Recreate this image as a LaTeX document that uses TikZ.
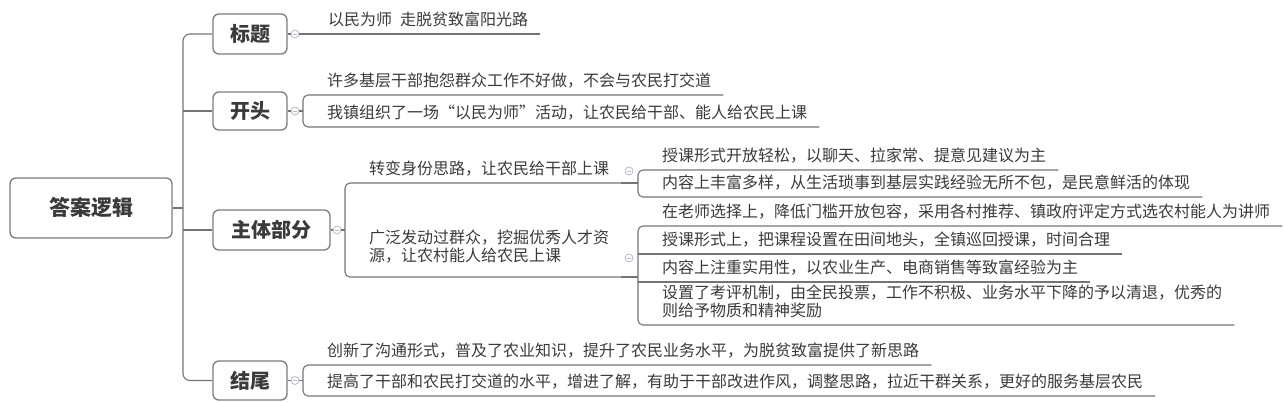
\documentclass[tikz,border=0pt]{standalone}
\usepackage{fontspec}
\newfontfamily\cjk{Noto Sans CJK SC}
\definecolor{txt}{HTML}{3A3A3A}
\definecolor{ln}{HTML}{747474}
\definecolor{bx}{HTML}{7C7C7C}
\definecolor{tg}{HTML}{B4B8CC}
\newcommand\leaffont{\cjk\fontsize{16}{16}\selectfont}
\newcommand\leaftext[1]{\begin{tabular}[b]{@{\hspace{24pt}}l@{\hspace{12pt}}}#1\end{tabular}}
\tikzset{
  conn/.style={draw=ln, line width=1.1pt},
  ul/.style={draw=ln, line width=1.1pt},
  lvl/.style={draw=bx, line width=1.3pt, rounded corners=6pt, fill=white, text=txt,
    font=\cjk\bfseries\fontsize{20}{24}\selectfont, minimum height=40pt, inner sep=0pt},
  leaf/.style={anchor=south west, inner sep=0pt, text depth=8pt, font=\leaffont, text=txt},
  tog/.style={circle, draw=tg, fill=white, line width=0.8pt, minimum size=8pt, inner sep=0pt,
    path picture={\draw[tg, line width=0.8pt] ([xshift=-2pt]path picture bounding box.center) -- ([xshift=2pt]path picture bounding box.center);}}
}
\begin{document}
\begin{tikzpicture}[x=1pt, y=-1pt]
\useasboundingbox (0,0) rectangle (1284,402);

% main boxes
\node[lvl, minimum width=162pt, minimum height=60pt, font=\cjk\bfseries\fontsize{21}{25}\selectfont] (root) at (91,208) {答案逻辑};
\node[lvl, minimum width=74pt] (bt) at (250,34) {标题};
\node[lvl, minimum width=74pt, minimum height=38pt] (kt) at (250,111) {开头};
\node[lvl, minimum width=117pt] (zt) at (271.5,230) {主体部分};
\node[lvl, minimum width=74pt, minimum height=39pt] (jw) at (250,380.5) {结尾};

% trunk
\coordinate (trunk) at (183,208);
\draw[conn] (root.east) -- (trunk);
\draw[conn, rounded corners=7pt] (bt.west) -| (trunk) |- (jw.west);
\draw[conn] (kt.west) -- (kt.west -| trunk);
\draw[conn] (zt.west) -- (zt.west -| trunk);

% toggles
\node[tog] (tbt) at (295,34) {};
\node[tog] (tkt) at (295,111) {};
\node[tog] (tzt) at (337,230) {};
\node[tog] (tjw) at (295,380.5) {};
\node[tog] (tz1) at (629,171) {};
\node[tog] (tz2) at (629,258) {};

% 标题
\node[leaf] (b1) at (304,34) {\leaftext{以民为师\hspace{8pt}走脱贫致富阳光路}};
\draw[conn] (bt.east) -- (tbt.west);
\draw[ul] (tbt.east) -- (b1.south west) -- (b1.south east);

% 开头
\node[leaf] (k1) at (303,95) {\leaftext{许多基层干部抱怨群众工作不好做，不会与农民打交道}};
\node[leaf] (k2) at (303,127) {\leaftext{我镇组织了一场“以民为师”活动，让农民给干部、能人给农民上课}};
\draw[conn] (kt.east) -- (tkt.west);
\draw[conn] (tkt.east) -- (tkt.east -| k1.south west);
\draw[ul, rounded corners=5pt] (k1.south east) -- (k1.south west) -- (k2.south west) -- (k2.south east);

% 主体部分
\node[leaf] (z1) at (345,183) {\leaftext{转变身份思路，让农民给干部上课}};
\node[leaf, text depth=15pt] (z2) at (345,277) {\leaftext{广泛发动过群众，挖掘优秀人才资\\源，让农村能人给农民上课}};
\draw[conn] (zt.east) -- (tzt.west);
\draw[conn] (tzt.east) -- (tzt.east -| z1.south west);
\draw[ul, rounded corners=5pt] (z1.south east) -- (z1.south west) -- (z2.south west) -- (z2.south east);

% grandchildren of z1
\node[leaf] (g1) at (638,170) {\leaftext{授课形式开放轻松，以聊天、拉家常、提意见建议为主}};
\node[leaf] (g2) at (638,197) {\leaftext{内容上丰富多样，从生活琐事到基层实践经验无所不包，是民意鲜活的体现}};
\draw[ul] (z1.south east) -- (z1.south east -| g1.south west);
\draw[ul, rounded corners=5pt] (g1.south east) -- (g1.south west) -- (g2.south west) -- (g2.south east);

% grandchildren of z2
\node[leaf] (g3) at (638,226) {\leaftext{在老师选择上，降低门槛开放包容，采用各村推荐、镇政府评定方式选农村能人为讲师}};
\node[leaf] (g4) at (638,254) {\leaftext{授课形式上，把课程设置在田间地头，全镇巡回授课，时间合理}};
\node[leaf] (g5) at (638,282) {\leaftext{内容上注重实用性，以农业生产、电商销售等致富经验为主}};
\node[leaf] (g6) at (638,325) {\leaftext{设置了考评机制，由全民投票，工作不积极、业务水平下降的予以清退，优秀的\\则给予物质和精神奖励}};
\draw[ul] (z2.south east) -- (z2.south east -| g3.south west);
\draw[ul, rounded corners=5pt] (g3.south east) -- (g3.south west) -- (g6.south west) -- (g6.south east);
\draw[ul] (g4.south west) -- (g4.south east);
\draw[ul] (g5.south west) -- (g5.south east);

% 结尾
\node[leaf] (e1) at (303,365) {\leaftext{创新了沟通形式，普及了农业知识，提升了农民业务水平，为脱贫致富提供了新思路}};
\node[leaf] (e2) at (303,396) {\leaftext{提高了干部和农民打交道的水平，增进了解，有助于干部改进作风，调整思路，拉近干群关系，更好的服务基层农民}};
\draw[conn] (jw.east) -- (tjw.west);
\draw[conn] (tjw.east) -- (tjw.east -| e1.south west);
\draw[ul, rounded corners=5pt] (e1.south east) -- (e1.south west) -- (e2.south west) -- (e2.south east);
\end{tikzpicture}
\end{document}
